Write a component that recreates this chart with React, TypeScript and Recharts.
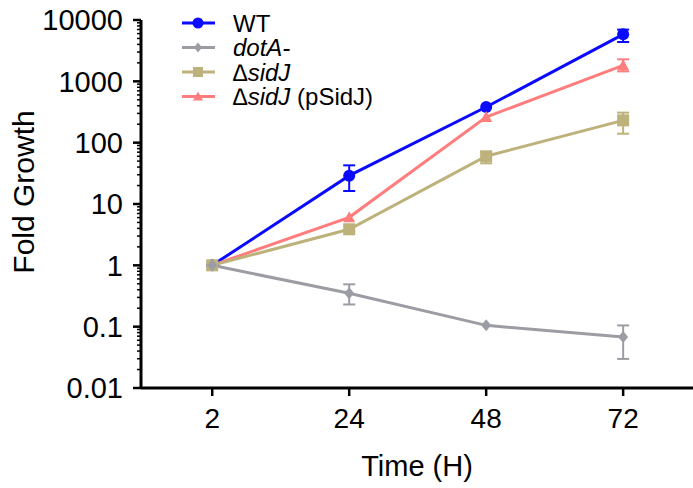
import React from 'react';
import { LineChart, Line, XAxis, YAxis, ErrorBar, Label } from 'recharts';

const timeLabels = ['2', '24', '48', '72'];
const timeIndex = [0, 1, 2, 3];

const wtMean = [1, 29, 381, 5840];
const wtLow = [null, 12.7, null, 1465];
const wtHigh = [null, 13.7, null, 1130];

const dotAMean = [1, 0.35, 0.105, 0.0678];
const dotALow = [null, 0.12, null, 0.038];
const dotAHigh = [null, 0.14, null, 0.037];

const sidJMean = [1, 3.87, 60, 231];
const sidJLow = [null, null, 14, 91];
const sidJHigh = [null, null, 10, 78];

const pSidJMean = [1, 6.07, 262, 1824];
const pSidJLow = [null, null, null, 370];
const pSidJHigh = [null, null, null, 460];

const majorTicks = [0.01, 0.1, 1, 10, 100, 1000, 10000];
const minorMultipliers = [2, 3, 4, 5, 6, 7, 8, 9];

const COLORS = {
  wt: '#0a0aff',
  dotA: '#9c9ca4',
  sidJ: '#bdb27b',
  pSidJ: '#ff7d7d',
};

const FONT = '"Liberation Sans", Arial, Helvetica, sans-serif';

const err = (lo: (number | null)[], hi: (number | null)[], i: number) =>
  lo[i] == null || hi[i] == null ? null : [lo[i] as number, hi[i] as number];

const data = timeIndex.map((idx, i) => ({
  idx,
  wt: wtMean[i],
  wtErr: err(wtLow, wtHigh, i),
  dotA: dotAMean[i],
  dotAErr: err(dotALow, dotAHigh, i),
  sidJ: sidJMean[i],
  sidJErr: err(sidJLow, sidJHigh, i),
  pSidJ: pSidJMean[i],
  pSidJErr: err(pSidJLow, pSidJHigh, i),
}));

const yTicks: number[] = [];
majorTicks.forEach((m, k) => {
  yTicks.push(m);
  if (k < majorTicks.length - 1) minorMultipliers.forEach((mm) => yTicks.push(+(m * mm).toPrecision(3)));
});

const isMajor = (v: number) => Math.abs(Math.log10(v) - Math.round(Math.log10(v))) < 1e-6;

const YTick = (props: any) => {
  const { x, y, payload } = props;
  const v = payload.value;
  const major = isMajor(v);
  const axisX = x + 18;
  return (
    <g>
      <line
        x1={axisX - (major ? 8 : 4)}
        x2={axisX}
        y1={y}
        y2={y}
        stroke="#000"
        strokeWidth={major ? 2.5 : 1.5}
      />
      {major && (
        <text x={x} y={y} dy="0.36em" textAnchor="end" fontSize={29} fontFamily={FONT} fill="#000">
          {String(v)}
        </text>
      )}
    </g>
  );
};

const circleDot = (color: string) => (p: any) => (
  <circle key={`c-${p.index}`} cx={p.cx} cy={p.cy} r={6} fill={color} stroke="none" />
);
const diamondDot = (color: string) => (p: any) => (
  <polygon
    key={`d-${p.index}`}
    points={`${p.cx},${p.cy - 6} ${p.cx + 5},${p.cy} ${p.cx},${p.cy + 6} ${p.cx - 5},${p.cy}`}
    fill={color}
  />
);
const squareDot = (color: string) => (p: any) => (
  <rect key={`s-${p.index}`} x={p.cx - 6} y={p.cy - 6} width={12} height={12} fill={color} />
);
const triangleDot = (color: string) => (p: any) => (
  <polygon
    key={`t-${p.index}`}
    points={`${p.cx},${p.cy - 6} ${p.cx + 6},${p.cy + 5} ${p.cx - 6},${p.cy + 5}`}
    fill={color}
  />
);

const legendRows = [
  { color: COLORS.wt, shape: 'circle', parts: [{ t: 'WT', i: false }] },
  { color: COLORS.dotA, shape: 'diamond', parts: [{ t: 'dotA-', i: true }] },
  { color: COLORS.sidJ, shape: 'square', parts: [{ t: '\u2206sidJ', i: true }] },
  { color: COLORS.pSidJ, shape: 'triangle', parts: [{ t: '\u2206sidJ', i: true }, { t: ' (pSidJ)', i: false }] },
];

const LegendBox = () => (
  <svg
    width={260}
    height={110}
    style={{ position: 'absolute', left: 175, top: 8, display: 'block', pointerEvents: 'none' }}
  >
    {legendRows.map((r, k) => {
      const cy = 15 + k * 24.5;
      const cx = 23;
      let marker: React.ReactNode = null;
      if (r.shape === 'circle') marker = <circle cx={cx} cy={cy} r={5.5} fill={r.color} />;
      if (r.shape === 'diamond')
        marker = (
          <polygon points={`${cx},${cy - 5} ${cx + 4},${cy} ${cx},${cy + 5} ${cx - 4},${cy}`} fill={r.color} />
        );
      if (r.shape === 'square') marker = <rect x={cx - 5} y={cy - 5} width={10} height={10} fill={r.color} />;
      if (r.shape === 'triangle')
        marker = <polygon points={`${cx},${cy - 5} ${cx + 5},${cy + 4} ${cx - 5},${cy + 4}`} fill={r.color} />;
      return (
        <g key={k}>
          <line x1={7} x2={40} y1={cy} y2={cy} stroke={r.color} strokeWidth={3} />
          {marker}
          <text x={58} y={cy} dy="0.36em" fontSize={24} fontFamily={FONT} fill="#000">
            {r.parts.map((p, j) => (
              <tspan key={j} fontStyle={p.i ? 'italic' : 'normal'}>
                {p.t}
              </tspan>
            ))}
          </text>
        </g>
      );
    })}
  </svg>
);

export default function App() {
  return (
    <div style={{ position: 'absolute', left: 0, top: 0, width: 693, height: 488, background: '#fff' }}>
      <LineChart width={693} height={488} data={data} margin={{ top: 20, right: 0, bottom: 0, left: 0 }}>
        <XAxis
          dataKey="idx"
          type="number"
          domain={[-0.52, 3.51]}
          ticks={timeIndex}
          tickFormatter={(v: number) => timeLabels[v]}
          height={100}
          axisLine={{ stroke: '#000', strokeWidth: 3 }}
          tickLine={{ stroke: '#000', strokeWidth: 2.5 }}
          tickSize={8}
          tickMargin={12}
          tick={{ fontSize: 28, fill: '#000', fontFamily: FONT }}
          allowDataOverflow
        >
          <Label
            value="Time (H)"
            position="insideBottom"
            offset={12}
            style={{ fontSize: 29, fill: '#000', fontFamily: FONT }}
          />
        </XAxis>
        <YAxis
          type="number"
          scale="log"
          domain={[0.01, 10000]}
          ticks={yTicks}
          interval={0}
          width={141}
          allowDataOverflow
          axisLine={{ stroke: '#000', strokeWidth: 3 }}
          tickLine={false}
          tickSize={8}
          tickMargin={10}
          tick={<YTick />}
        >
          <Label
            content={(p: any) => {
              const vb = p.viewBox;
              const cx = 23;
              const cy = vb.y + vb.height / 2 - 12;
              return (
                <text
                  x={cx}
                  y={cy}
                  transform={`rotate(-90 ${cx} ${cy})`}
                  textAnchor="middle"
                  dy="0.36em"
                  fontSize={30}
                  fontFamily={FONT}
                  fill="#000"
                >
                  Fold Growth
                </text>
              );
            }}
          />
        </YAxis>
        <Line
          dataKey="wt"
          stroke={COLORS.wt}
          strokeWidth={3}
          dot={circleDot(COLORS.wt)}
          activeDot={false}
          isAnimationActive={false}
        >
          <ErrorBar dataKey="wtErr" direction="y" width={6} stroke={COLORS.wt} strokeWidth={2} />
        </Line>
        <Line
          dataKey="pSidJ"
          stroke={COLORS.pSidJ}
          strokeWidth={3}
          dot={triangleDot(COLORS.pSidJ)}
          activeDot={false}
          isAnimationActive={false}
        >
          <ErrorBar dataKey="pSidJErr" direction="y" width={6} stroke={COLORS.pSidJ} strokeWidth={2} />
        </Line>
        <Line
          dataKey="sidJ"
          stroke={COLORS.sidJ}
          strokeWidth={3}
          dot={squareDot(COLORS.sidJ)}
          activeDot={false}
          isAnimationActive={false}
        >
          <ErrorBar dataKey="sidJErr" direction="y" width={6} stroke={COLORS.sidJ} strokeWidth={2} />
        </Line>
        <Line
          dataKey="dotA"
          stroke={COLORS.dotA}
          strokeWidth={3}
          dot={diamondDot(COLORS.dotA)}
          activeDot={false}
          isAnimationActive={false}
        >
          <ErrorBar dataKey="dotAErr" direction="y" width={6} stroke={COLORS.dotA} strokeWidth={2} />
        </Line>
      </LineChart>
      <LegendBox />
    </div>
  );
}
